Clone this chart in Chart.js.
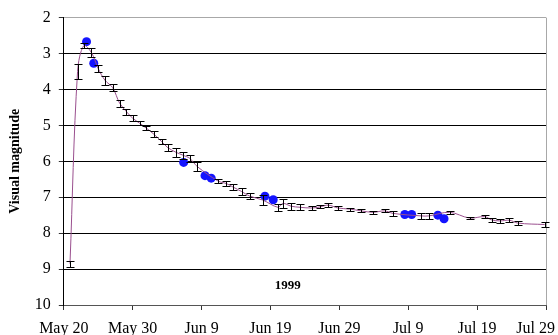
<!DOCTYPE html>
<html>
<head>
<meta charset="utf-8">
<script src="https://cdn.jsdelivr.net/npm/chart.js@4"></script>
<style>
  body { margin: 0; background: #fff; }
</style>
</head>
<body>
<canvas id="lightCurve" width="558" height="335"></canvas>
<script>
// Visual estimates (days after May 20, 1999) with error bars
var obsDays = [0.9, 2.0, 2.9, 4.0, 5.0, 6.0, 7.1, 8.1, 9.1, 10.0, 11.0, 12.0, 13.1, 14.2, 15.1, 16.3, 17.3, 18.3, 19.4,
    22.4, 23.6, 24.6, 25.8, 27.0, 28.9, 31.1, 31.8, 33.0, 34.3, 36.0, 37.2, 38.4, 39.8, 41.5, 43.2, 44.9, 46.6, 47.8,
    51.9, 53.0, 56.0, 58.9, 61.1, 62.1, 63.3, 64.7, 65.9, 69.8];
var obsMags = [8.85, 3.5, 2.78, 2.97, 3.42, 3.75, 3.95, 4.38, 4.62, 4.8, 4.94, 5.08, 5.25, 5.45, 5.62, 5.75, 5.83, 5.92, 6.15,
    6.55, 6.62, 6.72, 6.84, 6.97, 7.08, 7.28, 7.17, 7.25, 7.28, 7.3, 7.27, 7.22, 7.3, 7.33, 7.38, 7.42, 7.38, 7.45,
    7.52, 7.52, 7.42, 7.58, 7.54, 7.63, 7.66, 7.64, 7.72, 7.76];
var obsErrs = [0.08, 0.2, 0.08, 0.12, 0.1, 0.12, 0.1, 0.1, 0.08, 0.08, 0.06, 0.06, 0.08, 0.08, 0.1, 0.12, 0.1, 0.1, 0.12,
    0.06, 0.06, 0.08, 0.1, 0.08, 0.15, 0.1, 0.12, 0.1, 0.08, 0.06, 0.04, 0.05, 0.06, 0.04, 0.04, 0.04, 0.04, 0.06,
    0.08, 0.08, 0.04, 0.04, 0.04, 0.05, 0.05, 0.05, 0.05, 0.06];

// Blue points
var blueDays = [3.3, 4.35, 17.4, 20.5, 21.4, 29.2, 30.4, 49.5, 50.5, 54.3, 55.2];
var blueMags = [2.67, 3.27, 6.03, 6.4, 6.47, 6.97, 7.07, 7.48, 7.48, 7.5, 7.6];

var tickDays = [0, 10, 20, 30, 40, 50, 60, 70];
var tickLabels = ['May 20', 'May 30', 'Jun 9', 'Jun 19', 'Jun 29', 'Jul 9', 'Jul 19', 'Jul 29'];
var yearLabel = '1999';

var serif = '"Liberation Serif", "Times New Roman", serif';

function toPoints(xs, ys) {
    return xs.map(function (x, i) { return { x: x, y: ys[i] }; });
}

// error bars on the first dataset
var errorBars = {
    id: 'errorBars',
    afterDatasetDraw: function (chart, args) {
        if (args.index !== 0) return;
        var ctx = chart.ctx, xs = chart.scales.x, ys = chart.scales.y;
        ctx.save();
        ctx.strokeStyle = '#000';
        ctx.lineWidth = 1;
        obsDays.forEach(function (d, i) {
            var px = Math.round(xs.getPixelForValue(d)) + 0.5;
            var top = Math.round(ys.getPixelForValue(obsMags[i] - obsErrs[i])) + 0.5;
            var bot = Math.round(ys.getPixelForValue(obsMags[i] + obsErrs[i])) + 0.5;
            ctx.beginPath();
            ctx.moveTo(px, top); ctx.lineTo(px, bot);
            ctx.moveTo(px - 4, top); ctx.lineTo(px + 4, top);
            ctx.moveTo(px - 4, bot); ctx.lineTo(px + 4, bot);
            ctx.stroke();
        });
        ctx.restore();
    }
};

// date labels under the axis (last one kept inside the canvas) and the year
var axisText = {
    id: 'axisText',
    afterDraw: function (chart) {
        var ctx = chart.ctx, xs = chart.scales.x, ys = chart.scales.y;
        ctx.save();
        ctx.fillStyle = '#000';
        ctx.textAlign = 'center';
        ctx.textBaseline = 'middle';
        ctx.font = '16px ' + serif;
        tickLabels.forEach(function (t, i) {
            var w = ctx.measureText(t).width;
            var px = Math.min(xs.getPixelForValue(tickDays[i]), chart.width - 3 - w / 2);
            ctx.fillText(t, px, xs.top + 24);
        });
        ctx.font = 'bold 13px ' + serif;
        ctx.fillText(yearLabel, xs.getPixelForValue(32.5), ys.getPixelForValue(9.47));
        ctx.restore();
    }
};

var ctx1 = document.getElementById('lightCurve').getContext('2d');
var lightCurve = new Chart(ctx1, {
    type: 'line',
    data: {
        datasets: [{
            label: 'Visual estimates',
            data: toPoints(obsDays, obsMags),
            borderColor: '#9a4f8e',
            borderWidth: 1,
            tension: 0.35,
            pointRadius: 0,
            fill: false
        }, {
            label: 'Blue',
            data: toPoints(blueDays, blueMags),
            showLine: false,
            pointRadius: 4.5,
            pointBackgroundColor: '#1414ff',
            pointBorderWidth: 0
        }]
    },
    options: {
        responsive: false,
        animation: false,
        layout: { padding: { left: 4, top: 6, right: 12, bottom: 25 } },
        plugins: { legend: { display: false }, tooltip: { enabled: false } },
        scales: {
            x: {
                type: 'linear',
                min: 0,
                max: 70,
                ticks: { stepSize: 10, display: false },
                grid: {
                    color: function (c) { return c.tick && c.tick.value === 70 ? '#a8a8a8' : 'rgba(0,0,0,0)'; },
                    tickColor: '#333',
                    tickLength: 5
                },
                border: { color: '#555' }
            },
            y: {
                min: 2,
                max: 10,
                reverse: true,
                ticks: { stepSize: 1, color: '#000', padding: 8, font: { family: serif, size: 16 } },
                grid: {
                    color: function (c) { return c.tick && c.tick.value === 2 ? '#a8a8a8' : '#000'; },
                    tickColor: '#333',
                    tickLength: 5
                },
                border: { color: '#000' },
                title: {
                    display: true,
                    text: 'Visual magnitude',
                    color: '#000',
                    font: { family: serif, size: 14, weight: 'bold' },
                    padding: { top: 3, bottom: 3 }
                }
            }
        }
    },
    plugins: [errorBars, axisText]
});
</script>
</body>
</html>
